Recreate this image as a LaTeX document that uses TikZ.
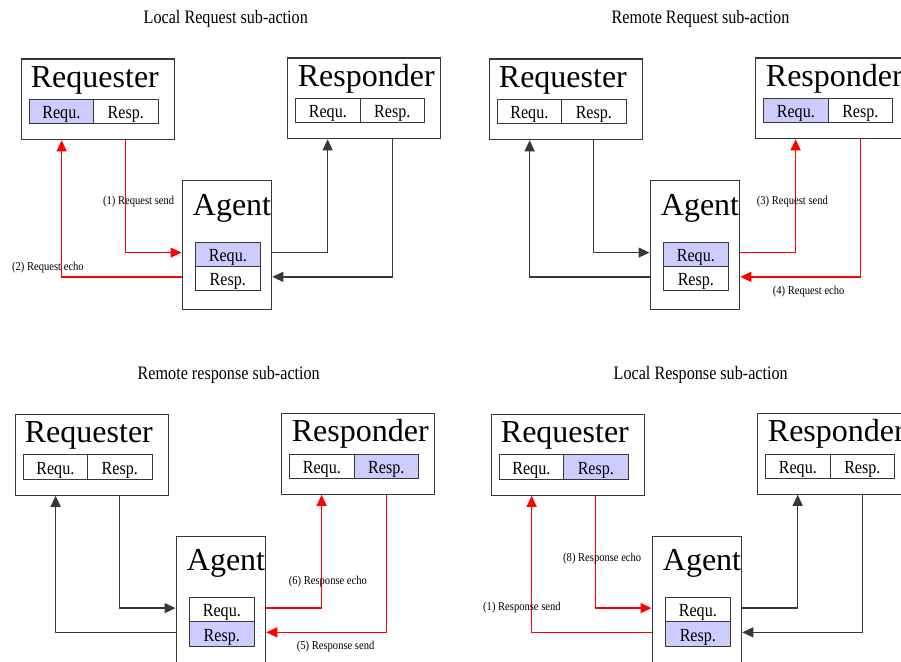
\documentclass[tikz,border=0pt]{standalone}
\usepackage{fontspec}
\setmainfont{Liberation Serif}
\usetikzlibrary{arrows.meta}

\definecolor{hlblue}{RGB}{204,204,255}
\definecolor{framegray}{RGB}{55,55,55}

% condensed text for the small cells, captions and step labels
\newcommand\celltext[1]{\scalebox{0.87}[1]{#1}}
\newcommand\narrow[1]{\scalebox{0.88}[1]{#1}}

\tikzset{
  actorbox/.style={draw=framegray, line width=1.3pt, anchor=north west, inner sep=0pt},
  cellbox/.style={draw=framegray, line width=1.2pt, anchor=north west, inner sep=0pt,
    minimum width=64.5pt, text height=14.5pt, text depth=0pt,
    font=\fontsize{18.5}{18.5}\selectfont},
  hl/.style={fill=hlblue},
  plain/.style={fill=white},
  bigname/.style={anchor=base west, inner sep=0pt, font=\fontsize{32}{32}\selectfont},
  caption/.style={anchor=base west, inner sep=0pt, font=\fontsize{19}{19}\selectfont},
  steplabel/.style={anchor=base west, inner sep=0pt, font=\fontsize{12}{12}\selectfont},
  link/.style={line width=1.3pt, -{Triangle[length=11pt,width=10pt]}},
  blacklink/.style={link, color=framegray},
  redlink/.style={link, color=red},
}

% Requester, Responder and Agent with their Requ./Resp. cells
% #1 name prefix, #2-#7 fill styles of the six cells
\newcommand\actorset[7]{%
  \node[actorbox, minimum width=153.5pt, minimum height=80.5pt] (#1-rq) at (20.5,58.5) {};
  \node[bigname] (#1-rqname) at (30.7,87.3) {Requester};
  \node[cellbox, minimum height=24.5pt, #2] (#1-rqq) at (28.5,98.5) {\celltext{Requ.}};
  \node[cellbox, minimum height=24.5pt, #3] (#1-rqs) at (93,98.5) {\celltext{Resp.}};
  \node[actorbox, minimum width=153pt, minimum height=80.5pt] (#1-rs) at (287,57.5) {};
  \node[bigname] (#1-rsname) at (297.7,86) {Responder};
  \node[cellbox, minimum height=24pt, #4] (#1-rsq) at (295,98) {\celltext{Requ.}};
  \node[cellbox, minimum height=24pt, #5] (#1-rss) at (359.5,98) {\celltext{Resp.}};
  \node[actorbox, minimum width=89.5pt, minimum height=129pt] (#1-ag) at (181.5,180) {};
  \node[bigname] (#1-agname) at (192.7,215) {Agent};
  \node[cellbox, minimum height=24pt, #6] (#1-agq) at (195,241.5) {\celltext{Requ.}};
  \node[cellbox, minimum height=24.5pt, #7] (#1-ags) at (195,265.5) {\celltext{Resp.}};
}

% Connectors between the agent and both parties
% #1 name prefix, #2 requester-side style, #3 responder-side style
\newcommand\linkset[3]{%
  \draw[#2] ([xshift=27.75pt]#1-rq.south) |- ([yshift=1.5pt]#1-ag.west |- #1-agq.center);
  \draw[#2] ([yshift=1.5pt]#1-ag.west |- #1-ags.center) -| ([xshift=-36.25pt]#1-rq.south);
  \draw[#3] ([yshift=1.5pt]#1-ag.east |- #1-agq.center) -| ([xshift=-36.5pt]#1-rs.south);
  \draw[#3] ([xshift=28.5pt]#1-rs.south) |- ([yshift=1.5pt]#1-ag.east |- #1-ags.center);
}

\begin{document}
\begin{tikzpicture}[x=1pt, y=-1pt]
\useasboundingbox (0,0) rectangle (901,661);
\clip (0,0) rectangle (901,661);

% Local request
\begin{scope}
  \actorset{p1}{hl}{plain}{plain}{plain}{hl}{plain}
  \linkset{p1}{redlink}{blacklink}
  \node[caption] (p1-title) at (143.5,24) {\scalebox{0.85}[1]{Local Request sub-action}};
  \node[steplabel] (p1-l1) at (103,204) {\narrow{(1) Request send}};
  \node[steplabel] (p1-l2) at (12,270) {\narrow{(2) Request echo}};
\end{scope}

% Remote request
\begin{scope}[shift={(468,0)}]
  \actorset{p2}{plain}{plain}{hl}{plain}{hl}{plain}
  \linkset{p2}{blacklink}{redlink}
  \node[caption] (p2-title) at (143.5,24) {\scalebox{0.85}[1]{Remote Request sub-action}};
  \node[steplabel] (p2-l3) at (288.7,204) {\narrow{(3) Request send}};
  \node[steplabel] (p2-l4) at (304.7,294) {\narrow{(4) Request echo}};
\end{scope}

% Remote response
\begin{scope}[shift={(-6,355.5)}]
  \actorset{p3}{plain}{plain}{plain}{hl}{plain}{hl}
  \linkset{p3}{blacklink}{redlink}
  \node[caption] (p3-title) at (143.5,24) {\scalebox{0.85}[1]{Remote response sub-action}};
  \node[steplabel] (p3-l6) at (294.7,228.5) {\narrow{(6) Response echo}};
  \node[steplabel] (p3-l5) at (302.7,293.5) {\narrow{(5) Response send}};
\end{scope}

% Local response
\begin{scope}[shift={(470,355.5)}]
  \actorset{p4}{plain}{hl}{plain}{plain}{plain}{hl}
  \linkset{p4}{redlink}{blacklink}
  \node[caption] (p4-title) at (143.5,24) {\scalebox{0.85}[1]{Local Response sub-action}};
  \node[steplabel] (p4-l8) at (93,206) {\narrow{(8) Response echo}};
  \node[steplabel] (p4-l7) at (13,254.5) {\narrow{(1) Response send}};
\end{scope}
\end{tikzpicture}
\end{document}
